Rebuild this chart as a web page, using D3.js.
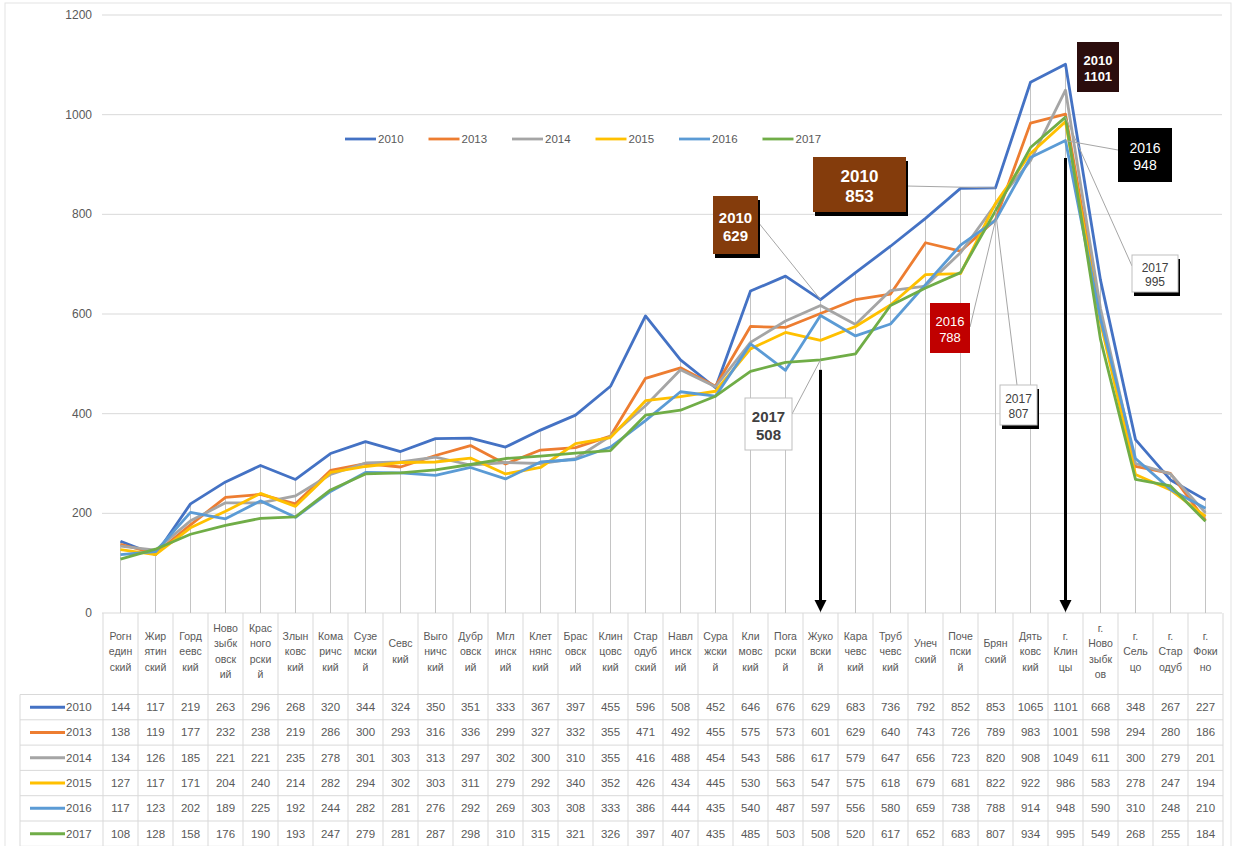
<!DOCTYPE html>
<html>
<head>
<meta charset="utf-8">
<script src="https://cdn.jsdelivr.net/npm/d3@7"></script>
<style>
  body { margin: 0; background: #fff; }
  text { font-family: "Liberation Sans", "DejaVu Sans", sans-serif; }
</style>
</head>
<body>
<div id="chart"></div>
<script>
// districts, wrapped the way the cells show them
var categories = [
  "Рогн|един|ский", "Жир|ятин|ский", "Горд|еевс|кий", "Ново|зыбк|овск|ий", "Крас|ного|рски|й",
  "Злын|ковс|кий", "Кома|ричс|кий", "Сузе|мски|й", "Севс|кий", "Выго|ничс|кий",
  "Дубр|овск|ий", "Мгл|инск|ий", "Клет|нянс|кий", "Брас|овск|ий", "Клин|цовс|кий",
  "Стар|одуб|ский", "Навл|инск|ий", "Сура|жски|й", "Кли|мовс|кий", "Пога|рски|й",
  "Жуко|вски|й", "Кара|чевс|кий", "Труб|чевс|кий", "Унеч|ский", "Поче|пски|й",
  "Брян|ский", "Дять|ковс|кий", "г.|Клин|цы", "г.|Ново|зыбк|ов", "г.|Сель|цо",
  "г.|Стар|одуб", "г.|Фоки|но"
];

var years = ["2010", "2013", "2014", "2015", "2016", "2017"];
var colors = ["#4472c4", "#ed7d31", "#a5a5a5", "#ffc000", "#5b9bd5", "#70ad47"];

var v2010 = [144,117,219,263,296,268,320,344,324,350,351,333,367,397,455,596,508,452,646,676,629,683,736,792,852,853,1065,1101,668,348,267,227];
var v2013 = [138,119,177,232,238,219,286,300,293,316,336,299,327,332,355,471,492,455,575,573,601,629,640,743,726,789,983,1001,598,294,280,186];
var v2014 = [134,126,185,221,221,235,278,301,303,313,297,302,300,310,355,416,488,454,543,586,617,579,647,656,723,820,908,1049,611,300,279,201];
var v2015 = [127,117,171,204,240,214,282,294,302,303,311,279,292,340,352,426,434,445,530,563,547,575,618,679,681,822,922,986,583,278,247,194];
var v2016 = [117,123,202,189,225,192,244,282,281,276,292,269,303,308,333,386,444,435,540,487,597,556,580,659,738,788,914,948,590,310,248,210];
var v2017 = [108,128,158,176,190,193,247,279,281,287,298,310,315,321,326,397,407,435,485,503,508,520,617,652,683,807,934,995,549,268,255,184];

var series = [v2010, v2013, v2014, v2015, v2016, v2017];
var yTicks = [0, 200, 400, 600, 800, 1000, 1200];

// callouts: which series / district they point at
var notes = [
  { year: "2010", cat: 27, label: ["2010", "1101"] },
  { year: "2016", cat: 27, label: ["2016", "948"] },
  { year: "2017", cat: 27, label: ["2017", "995"] },
  { year: "2010", cat: 25, label: ["2010", "853"] },
  { year: "2010", cat: 20, label: ["2010", "629"] },
  { year: "2016", cat: 25, label: ["2016", "788"] },
  { year: "2017", cat: 25, label: ["2017", "807"] },
  { year: "2017", cat: 20, label: ["2017", "508"] }
];
// how each callout box looks and where it sits
var noteStyle = [
  { x: 1077, y: 42,  w: 42, h: 50, fill: "#2b0d0d", color: "#fff", size: 13, bold: true,  shadow: false, leader: false },
  { x: 1118, y: 128, w: 54, h: 54, fill: "#000",    color: "#fff", size: 14, bold: false, shadow: false, leader: [1118, 150] },
  { x: 1132, y: 255, w: 46, h: 37, fill: "#fff",    color: "#404040", size: 12, bold: false, shadow: true, leader: [1132, 266] },
  { x: 813,  y: 157, w: 93, h: 55, fill: "#843c0c", color: "#fff", size: 17, bold: true,  shadow: true,  leader: [906, 186] },
  { x: 713,  y: 196, w: 45, h: 58, fill: "#843c0c", color: "#fff", size: 15, bold: true,  shadow: true,  leader: [758, 222] },
  { x: 930,  y: 303, w: 40, h: 50, fill: "#c00000", color: "#fff", size: 13, bold: false, shadow: false, leader: [970, 327] },
  { x: 1000, y: 385, w: 37, h: 40, fill: "#fff",    color: "#404040", size: 12, bold: false, shadow: true, leader: [1017, 385] },
  { x: 745,  y: 398, w: 47, h: 52, fill: "#fff",    color: "#404040", size: 15, bold: true,  shadow: false, leader: [792, 414] }
];
// arrows drop from these values to the axis
var arrowCats = [20, 27];
var arrowTop = [508, 933];

var width = 1235, height = 846;

var svg = d3.select("#chart")
    .append("svg")
    .attr("width", width)
    .attr("height", height);

svg.append("rect")
    .attr("x", 5).attr("y", 3)
    .attr("width", 1226).attr("height", 860)
    .attr("fill", "none")
    .attr("stroke", "#e3e3e3");

var x = d3.scaleBand()
    .domain(d3.range(categories.length))
    .range([103, 1223]);

var y = d3.scaleLinear()
    .domain([0, 1200])
    .range([613, 15]);

var cx = function(i) { return x(i) + x.bandwidth() / 2; };

// gridlines + y labels
svg.append("g")
    .selectAll("line")
    .data(yTicks)
    .enter()
    .append("line")
    .attr("x1", 102).attr("x2", 1222)
    .attr("y1", function(d) { return y(d); })
    .attr("y2", function(d) { return y(d); })
    .attr("stroke", "#d9d9d9")
    .attr("stroke-width", 1);

svg.append("g")
    .selectAll("text")
    .data(yTicks)
    .enter()
    .append("text")
    .attr("x", 92)
    .attr("y", function(d) { return y(d) + 4; })
    .attr("text-anchor", "end")
    .attr("font-size", "12px")
    .attr("fill", "#595959")
    .text(function(d) { return d; });

// drop lines from the top point of each district
svg.append("g")
    .selectAll("line")
    .data(d3.range(categories.length))
    .enter()
    .append("line")
    .attr("x1", cx).attr("x2", cx)
    .attr("y1", function(i) { return y(d3.max(series, function(s) { return s[i]; })); })
    .attr("y2", y(0))
    .attr("stroke", "#c4c4c4")
    .attr("stroke-width", 1);

// series lines
var line = d3.line()
    .x(function(d, i) { return cx(i); })
    .y(function(d) { return y(d); });

svg.append("g")
    .selectAll("path")
    .data(series)
    .enter()
    .append("path")
    .attr("d", line)
    .attr("fill", "none")
    .attr("stroke", function(d, i) { return colors[i]; })
    .attr("stroke-width", 2.8)
    .attr("stroke-linejoin", "round");

// legend on top of the plot
var legend = svg.append("g")
    .selectAll("g")
    .data(years)
    .enter()
    .append("g")
    .attr("transform", function(d, i) { return "translate(" + (345 + i * 83.5) + ",139)"; });

legend.append("line")
    .attr("x1", 0).attr("x2", 31)
    .attr("stroke", function(d, i) { return colors[i]; })
    .attr("stroke-width", 2.8);

legend.append("text")
    .attr("x", 33).attr("y", 4)
    .attr("font-size", "11.5px")
    .attr("fill", "#595959")
    .text(function(d) { return d; });

// arrows
var arrows = svg.append("g");
arrowCats.forEach(function(c, i) {
    var ax = cx(c);
    arrows.append("line")
        .attr("x1", ax).attr("x2", ax)
        .attr("y1", y(arrowTop[i]) + 10)
        .attr("y2", y(0) - 10)
        .attr("stroke", "#000")
        .attr("stroke-width", 3);
    arrows.append("path")
        .attr("d", "M" + (ax - 6) + "," + (y(0) - 13) + " L" + (ax + 6) + "," + (y(0) - 13) + " L" + ax + "," + (y(0) - 1) + "Z")
        .attr("fill", "#000");
});

// callouts
var noteG = svg.append("g");
notes.forEach(function(n, i) {
    var st = noteStyle[i];
    var s = series[years.indexOf(n.year)];
    if (st.leader) {
        noteG.append("line")
            .attr("x1", st.leader[0]).attr("y1", st.leader[1])
            .attr("x2", cx(n.cat)).attr("y2", y(s[n.cat]))
            .attr("stroke", "#a6a6a6")
            .attr("stroke-width", 1);
    }
    if (st.shadow) {
        noteG.append("rect")
            .attr("x", st.x + 2).attr("y", st.y + 4)
            .attr("width", st.w).attr("height", st.h)
            .attr("fill", "#000");
    }
    noteG.append("rect")
        .attr("x", st.x).attr("y", st.y)
        .attr("width", st.w).attr("height", st.h)
        .attr("fill", st.fill)
        .attr("stroke", st.fill == "#fff" ? "#bfbfbf" : "none");
    noteG.append("text")
        .attr("x", st.x + st.w / 2)
        .attr("y", st.y + st.h / 2 - st.size * 0.15)
        .attr("text-anchor", "middle")
        .attr("font-size", st.size + "px")
        .attr("font-weight", st.bold ? "bold" : "normal")
        .attr("fill", st.color)
        .text(n.label[0]);
    noteG.append("text")
        .attr("x", st.x + st.w / 2)
        .attr("y", st.y + st.h / 2 + st.size * 1.05)
        .attr("text-anchor", "middle")
        .attr("font-size", st.size + "px")
        .attr("font-weight", st.bold ? "bold" : "normal")
        .attr("fill", st.color)
        .text(n.label[1]);
});

// data table
var rowTop = 694.5, rowH = 25.3;
var table = svg.append("g");

// header cell dividers
table.selectAll(".hdiv")
    .data(d3.range(categories.length + 1))
    .enter()
    .append("line")
    .attr("x1", function(i) { return 103 + i * x.bandwidth(); })
    .attr("x2", function(i) { return 103 + i * x.bandwidth(); })
    .attr("y1", y(0))
    .attr("y2", rowTop + rowH * 6)
    .attr("stroke", "#d9d9d9");

table.append("line")
    .attr("x1", 20).attr("x2", 20)
    .attr("y1", rowTop).attr("y2", rowTop + rowH * 6)
    .attr("stroke", "#d9d9d9");

table.selectAll(".hrow")
    .data(d3.range(7))
    .enter()
    .append("line")
    .attr("x1", 20).attr("x2", 1223)
    .attr("y1", function(k) { return rowTop + k * rowH; })
    .attr("y2", function(k) { return rowTop + k * rowH; })
    .attr("stroke", "#d9d9d9");

// header text
var head = table.selectAll(".head")
    .data(categories)
    .enter()
    .append("text")
    .attr("text-anchor", "middle")
    .attr("font-size", "10.5px")
    .attr("fill", "#595959");

head.each(function(c, i) {
    var parts = c.split("|");
    var t = d3.select(this);
    var top = 655 - (parts.length - 1) * 15.5 / 2;
    parts.forEach(function(p, k) {
        t.append("tspan")
            .attr("x", cx(i))
            .attr("y", top + k * 15.5)
            .text(p);
    });
});

// rows
series.forEach(function(s, r) {
    var ry = rowTop + rowH * r + rowH / 2;
    table.append("line")
        .attr("x1", 30).attr("x2", 65)
        .attr("y1", ry).attr("y2", ry)
        .attr("stroke", colors[r])
        .attr("stroke-width", 3);
    table.append("text")
        .attr("x", 66).attr("y", ry + 4)
        .attr("font-size", "11.5px")
        .attr("fill", "#595959")
        .text(years[r]);
    table.append("g")
        .selectAll("text")
        .data(s)
        .enter()
        .append("text")
        .attr("x", function(d, i) { return cx(i); })
        .attr("y", ry + 4)
        .attr("text-anchor", "middle")
        .attr("font-size", "11.5px")
        .attr("fill", "#595959")
        .text(function(d) { return d; });
});
</script>
</body>
</html>
